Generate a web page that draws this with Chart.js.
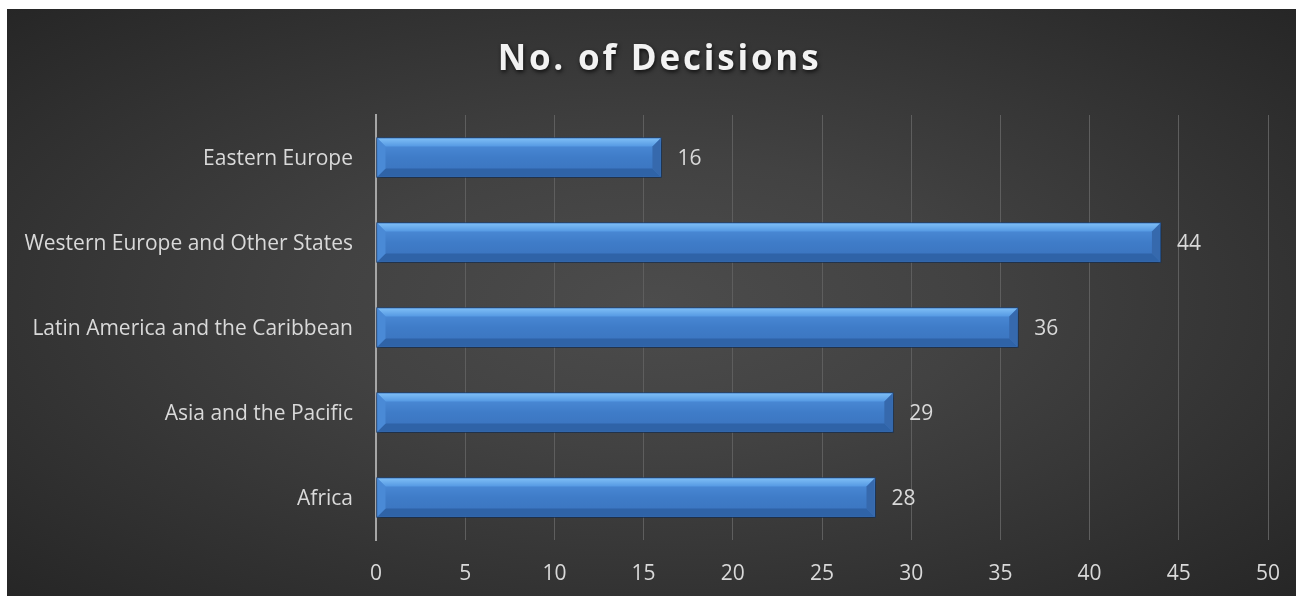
<!DOCTYPE html>
<html>
<head>
<meta charset="utf-8">
<script src="https://cdn.jsdelivr.net/npm/chart.js@4"></script>
<style>
  html, body { margin: 0; padding: 0; background: #ffffff; width: 1296px; height: 596px; overflow: hidden; }
  #wrap {
    position: absolute; left: 7px; top: 9px; width: 1289px; height: 587px;
    background: radial-gradient(ellipse farthest-corner at 50% 50%, #4c4c4c 0%, #424242 35%, #262626 100%);
  }
  canvas { display: block; }
</style>
</head>
<body>
<div id="wrap"><canvas id="c" width="1289" height="587"></canvas></div>
<script>
const titleText = "No. of Decisions";
const categories = ["Eastern Europe", "Western Europe and Other States", "Latin America and the Caribbean", "Asia and the Pacific", "Africa"];
const decisions = [16, 44, 36, 29, 28];
const xTicks = [0, 5, 10, 15, 20, 25, 30, 35, 40, 45, 50];

const FONT = "'Open Sans', Lato, sans-serif";

const titlePlugin = {
  id: 'customTitle',
  afterDraw(chart) {
    const ctx = chart.ctx;
    ctx.save();
    ctx.font = "bold 35px " + FONT;
    ctx.letterSpacing = "2.8px";
    ctx.textAlign = "center";
    ctx.textBaseline = "middle";
    ctx.shadowColor = "rgba(0,0,0,0.75)";
    ctx.shadowBlur = 4;
    ctx.shadowOffsetX = 1;
    ctx.shadowOffsetY = 2;
    ctx.fillStyle = "#f2f2f2";
    ctx.fillText(titleText, chart.width / 2 + 8, 51);
    ctx.restore();
  }
};

const bevelPlugin = {
  id: 'bevel',
  afterDatasetsDraw(chart) {
    const ctx = chart.ctx;
    const meta = chart.getDatasetMeta(0);
    meta.data.forEach((bar, i) => {
      const p = bar.getProps(['x', 'y', 'base', 'height'], true);
      const l = Math.min(p.base, p.x) + 1, r = Math.max(p.base, p.x) - 1;
      const t = p.y - p.height / 2 + 1, b = p.y + p.height / 2 - 1;
      const bv = 8;
      ctx.save();
      const g = ctx.createLinearGradient(0, t, 0, b);
      g.addColorStop(0, '#4f8fdb');
      g.addColorStop(0.5, '#3f7cc8');
      g.addColorStop(1, '#3a73bd');
      ctx.fillStyle = g;
      ctx.fillRect(l, t, r - l, b - t);
      const gt = ctx.createLinearGradient(0, t, 0, t + bv);
      gt.addColorStop(0, '#7dbdf5');
      gt.addColorStop(1, '#5599e3');
      ctx.fillStyle = gt;
      ctx.beginPath();
      ctx.moveTo(l, t); ctx.lineTo(r, t); ctx.lineTo(r - bv, t + bv); ctx.lineTo(l + bv, t + bv); ctx.closePath();
      ctx.fill();
      ctx.fillStyle = '#2f63a7';
      ctx.beginPath();
      ctx.moveTo(l, b); ctx.lineTo(r, b); ctx.lineTo(r - bv, b - bv); ctx.lineTo(l + bv, b - bv); ctx.closePath();
      ctx.fill();
      ctx.fillStyle = '#4a8ad6';
      ctx.beginPath();
      ctx.moveTo(l, t); ctx.lineTo(l + bv, t + bv); ctx.lineTo(l + bv, b - bv); ctx.lineTo(l, b); ctx.closePath();
      ctx.fill();
      ctx.fillStyle = '#3669ad';
      ctx.beginPath();
      ctx.moveTo(r, t); ctx.lineTo(r - bv, t + bv); ctx.lineTo(r - bv, b - bv); ctx.lineTo(r, b); ctx.closePath();
      ctx.fill();
      ctx.restore();
    });
  }
};

const labelPlugin = {
  id: 'valueLabels',
  afterDatasetsDraw(chart) {
    const ctx = chart.ctx;
    const meta = chart.getDatasetMeta(0);
    ctx.save();
    ctx.font = "21px " + FONT;
    ctx.fillStyle = "#d9d9d9";
    ctx.textAlign = "left";
    ctx.textBaseline = "middle";
    meta.data.forEach((bar, i) => {
      const p = bar.getProps(['x', 'y'], true);
      ctx.fillText(String(decisions[i]), p.x + 16, p.y + 2);
    });
    ctx.restore();
  }
};

new Chart(document.getElementById('c'), {
  type: 'bar',
  data: {
    labels: categories,
    datasets: [{
      data: decisions,
      backgroundColor: '#3d79c5',
      borderColor: '#25508a',
      borderWidth: 1,
      borderSkipped: false,
      barThickness: 40,
    }]
  },
  options: {
    indexAxis: 'y',
    responsive: false,
    animation: false,
    layout: { padding: { top: 106, right: 28, bottom: 0, left: 0 } },
    plugins: {
      legend: { display: false },
      title: { display: false },
      tooltip: { enabled: false }
    },
    scales: {
      x: {
        type: 'linear',
        min: 0, max: 50,
        afterBuildTicks(axis) { axis.ticks = xTicks.map(v => ({ value: v })); },
        afterFit(axis) { axis.height = 56; axis.paddingLeft = 0; axis.paddingRight = 0; },
        grid: { color: '#5e5e5e', lineWidth: 1, drawTicks: false },
        border: { display: false },
        ticks: { color: '#d9d9d9', font: { family: FONT, size: 21 }, padding: 21 }
      },
      y: {
        afterFit(axis) { axis.width = 369; axis.paddingTop = 0; axis.paddingBottom = 0; },
        grid: { display: false, drawTicks: false },
        border: { display: true, color: '#a6a6a6', width: 2 },
        ticks: { color: '#d9d9d9', font: { family: FONT, size: 21 }, padding: 23, labelOffset: 2 }
      }
    }
  },
  plugins: [{
    id: 'barShadow',
    beforeDatasetsDraw(chart) {
      const ctx = chart.ctx;
      ctx.save();
      ctx.shadowColor = 'rgba(0,0,0,0.55)';
      ctx.shadowBlur = 5;
      ctx.shadowOffsetX = 1;
      ctx.shadowOffsetY = 2;
    },
    afterDatasetsDraw(chart) { chart.ctx.restore(); }
  }, bevelPlugin, labelPlugin, titlePlugin]
});
</script>
</body>
</html>
